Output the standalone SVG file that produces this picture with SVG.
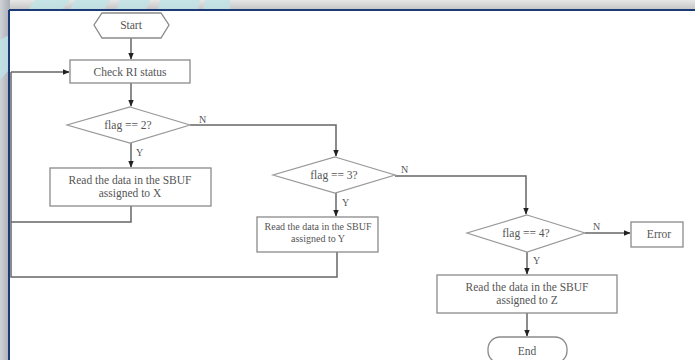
<svg xmlns="http://www.w3.org/2000/svg" width="695" height="360" viewBox="0 0 695 360">
<defs>
<linearGradient id="topbg" x1="0" y1="0" x2="0" y2="1">
<stop offset="0" stop-color="#e6e6e6"/><stop offset="1" stop-color="#c4c4c4"/>
</linearGradient>
<linearGradient id="leftbg" x1="0" y1="0" x2="1" y2="0">
<stop offset="0" stop-color="#cfd3d8"/><stop offset="1" stop-color="#a9adb4"/>
</linearGradient>
<marker id="ah" viewBox="0 0 10 10" refX="9" refY="5" markerWidth="7" markerHeight="7" orient="auto" markerUnits="userSpaceOnUse">
<path d="M0,1 L10,5 L0,9 Z" fill="#222"/>
</marker>
<style>
.shape{fill:#fff;stroke:#8a8a8a;stroke-width:1.3}
.dia{fill:#fff;stroke:#999;stroke-width:1.2}
.t{font-family:"Liberation Serif",serif;font-size:11.5px;fill:#555;text-anchor:middle}
.s{font-size:10px}
.lbl{font-family:"Liberation Serif",serif;font-size:10px;fill:#555}
.c{fill:none;stroke:#666;stroke-width:1.5}
</style>
</defs>
<!-- background frame -->
<rect x="0" y="0" width="695" height="360" fill="#fff"/>
<rect x="0" y="0" width="695" height="10" fill="url(#topbg)"/>
<rect x="0" y="0" width="10" height="360" fill="url(#leftbg)"/>
<g fill="#bfe3e6" opacity="0.8">
<polygon points="35,0 70,0 62,10 28,10"/>
<polygon points="75,0 110,0 104,10 70,10"/>
<polygon points="120,0 150,0 146,10 116,10"/>
<polygon points="160,0 200,0 198,10 158,10"/>
<polygon points="205,0 230,0 230,10 203,10"/>
<polygon points="0,40 9,35 9,70 0,80"/>
</g>
<line x1="9" y1="10" x2="695" y2="10" stroke="#1d3a78" stroke-width="2"/>
<line x1="9" y1="10" x2="9" y2="360" stroke="#1d3a78" stroke-width="2"/>

<g id="connectors">
<line class="c" x1="131" y1="38" x2="131" y2="59" marker-end="url(#ah)"/>
<line class="c" x1="11" y1="72" x2="69" y2="72" marker-end="url(#ah)"/>
<line class="c" x1="131" y1="83" x2="131" y2="106" marker-end="url(#ah)"/>
<polyline class="c" points="190,125 336,125 336,156" marker-end="url(#ah)"/>
<line class="c" x1="131" y1="143" x2="131" y2="167" marker-end="url(#ah)"/>
<polyline class="c" points="131,206 131,222 11,222"/>
<polyline class="c" points="11,72 11,277 337,277 337,252"/>
<polyline class="c" points="395,176 526,176 526,214" marker-end="url(#ah)"/>
<line class="c" x1="336" y1="193" x2="336" y2="216" marker-end="url(#ah)"/>
<line class="c" x1="585" y1="233" x2="630" y2="233" marker-end="url(#ah)"/>
<line class="c" x1="527" y1="252" x2="527" y2="274" marker-end="url(#ah)"/>
<line class="c" x1="527" y1="313" x2="527" y2="336" marker-end="url(#ah)"/>
<text class="lbl" x="199" y="123">N</text>
<text class="lbl" x="136" y="156">Y</text>
<text class="lbl" x="401" y="173">N</text>
<text class="lbl" x="342" y="206">Y</text>
<text class="lbl" x="593" y="230">N</text>
<text class="lbl" x="533" y="264">Y</text>
</g>

<g id="start">
<polygon class="shape" points="102,13 161,13 169,25 161,38 102,38 94,25"/>
<text class="t" x="131" y="29">Start</text>
</g>
<g id="check">
<rect class="shape" x="70" y="60" width="120" height="23"/>
<text class="t" x="130" y="75.5">Check RI status</text>
</g>
<g id="flag2">
<polygon class="dia" points="130,107 190,125 130,143 67,125"/>
<text class="t" x="128" y="129">flag == 2?</text>
</g>
<g id="readX">
<rect class="shape" x="50" y="168" width="161" height="38"/>
<text class="t" x="130" y="184">Read the data in the SBUF</text>
<text class="t" x="130" y="197">assigned to X</text>
</g>
<g id="flag3">
<polygon class="dia" points="335,157 395,175 335,193 273,175"/>
<text class="t" x="334" y="179">flag == 3?</text>
</g>
<g id="readY">
<rect class="shape" x="257" y="217" width="121" height="35"/>
<text class="t s" x="318" y="230">Read the data in the SBUF</text>
<text class="t s" x="318" y="242">assigned to Y</text>
</g>
<g id="flag4">
<polygon class="dia" points="527,215 585,233 527,252 467,233"/>
<text class="t" x="526" y="237">flag == 4?</text>
</g>
<g id="error">
<rect class="shape" x="631" y="222" width="52" height="25"/>
<text class="t" x="659" y="238">Error</text>
</g>
<g id="readZ">
<rect class="shape" x="437" y="275" width="180" height="38"/>
<text class="t" x="527" y="291">Read the data in the SBUF</text>
<text class="t" x="527" y="304">assigned to Z</text>
</g>
<g id="end">
<rect class="shape" x="488" y="337" width="79" height="26" rx="12" ry="12"/>
<text class="t" x="527" y="355">End</text>
</g>
</svg>
